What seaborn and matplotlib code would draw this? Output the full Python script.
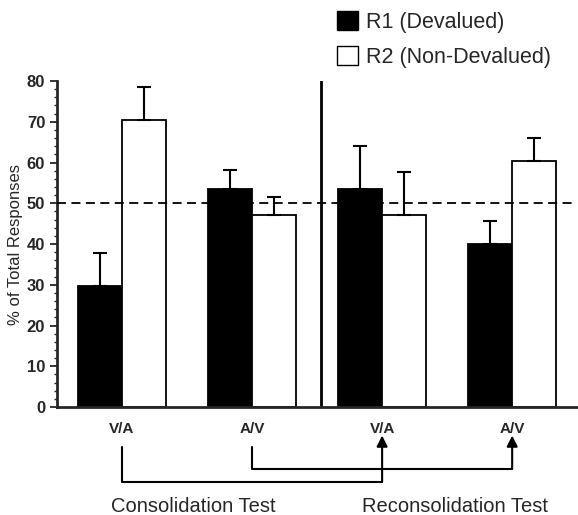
import matplotlib
matplotlib.use("Agg")
import matplotlib.pyplot as plt
import seaborn as sns
import pandas as pd
from matplotlib.patches import Patch
from matplotlib.ticker import MultipleLocator

# Data
groups = ["Cons V/A", "Cons A/V", "Recons V/A", "Recons A/V"]
tick_labels = ["V/A", "A/V", "V/A", "A/V"]
series = ["R1 (Devalued)", "R2 (Non-Devalued)"]
r1_mean = [29.8, 53.5, 53.4, 40.1]
r1_sem = [8.0, 4.6, 10.6, 5.6]
r2_mean = [70.5, 47.0, 47.1, 60.4]
r2_sem = [8.0, 4.5, 10.6, 5.7]

df = pd.DataFrame({
    "group": groups * 2,
    "response": [series[0]] * len(groups) + [series[1]] * len(groups),
    "pct": r1_mean + r2_mean,
})
sems = [r1_sem, r2_sem]

sns.set_style("ticks")
plt.rcParams["font.family"] = ["Liberation Sans", "DejaVu Sans"]

fig = plt.figure(figsize=(5.78, 5.15), dpi=100)
ax = fig.add_axes([0.0986, 0.2097, 0.9, 0.633])

sns.barplot(data=df, x="group", y="pct", hue="response", order=groups,
            hue_order=series, palette=["black", "white"], edgecolor="black",
            linewidth=1.3, width=0.68, errorbar=None, legend=False, ax=ax)

# one-sided (upward) error bars
for cont, err in zip(ax.containers, sems):
    xs = [b.get_x() + b.get_width() / 2 for b in cont]
    ys = [b.get_height() for b in cont]
    ax.errorbar(xs, ys, yerr=[[0] * len(err), err], fmt="none",
                ecolor="black", elinewidth=1.5, capsize=5, capthick=1.5,
                zorder=3)

ax.set_xlim(-0.5, 3.5)
ax.set_ylim(0, 80)
ax.yaxis.set_major_locator(MultipleLocator(10))
ax.yaxis.set_minor_locator(MultipleLocator(2))
ax.tick_params(axis="y", which="major", length=5, width=1.3, labelsize=12)
ax.tick_params(axis="y", which="minor", length=2.5, width=1)
ax.tick_params(axis="x", length=0, labelsize=11, pad=11)
for lab in ax.get_yticklabels():
    lab.set_fontweight("bold")
ax.set_xticks(range(len(groups)))
ax.set_xticklabels(tick_labels, fontweight="bold")
ax.set_xlabel("")
ax.set_ylabel("% of Total Responses", fontsize=12, labelpad=3)
sns.despine(ax=ax)
ax.spines["left"].set_linewidth(2)
ax.spines["bottom"].set_linewidth(2)

# 50% chance line (drawn over the bars) and test divider
ax.axhline(50, color="black", linestyle=(0, (5, 3)), linewidth=1.3, zorder=4)
ax.axvline(1.53, color="black", linewidth=2)

# connectors from consolidation groups to reconsolidation groups
conn = dict(color="black", linewidth=1.5, clip_on=False)
ax.plot([0, 0, 2], [-9.8, -18.4, -18.4], **conn)
ax.plot([1, 1, 3], [-9.8, -15.2, -15.2], **conn)
for x0, ybot in [(2, -18.4), (3, -15.2)]:
    ax.annotate("", xy=(x0, -7.0), xytext=(x0, ybot), annotation_clip=False,
                arrowprops=dict(arrowstyle="-|>", color="black", lw=1.5,
                                mutation_scale=16, shrinkA=0, shrinkB=0))

fig.text(193 / 578, 1 - 507 / 515, "Consolidation Test", fontsize=14.5,
         ha="center", va="center")
fig.text(455 / 578, 1 - 507 / 515, "Reconsolidation Test", fontsize=14.5,
         ha="center", va="center")

handles = [Patch(facecolor="black", edgecolor="black", label=series[0]),
           Patch(facecolor="white", edgecolor="black", label=series[1])]
fig.legend(handles=handles, loc="upper left", bbox_to_anchor=(326 / 578, 1.0),
           frameon=False, fontsize=15.5, handlelength=1.0, handleheight=1.0,
           handletextpad=0.35, labelspacing=0.62, borderaxespad=0.1)

fig.savefig("out.png", dpi=100)
